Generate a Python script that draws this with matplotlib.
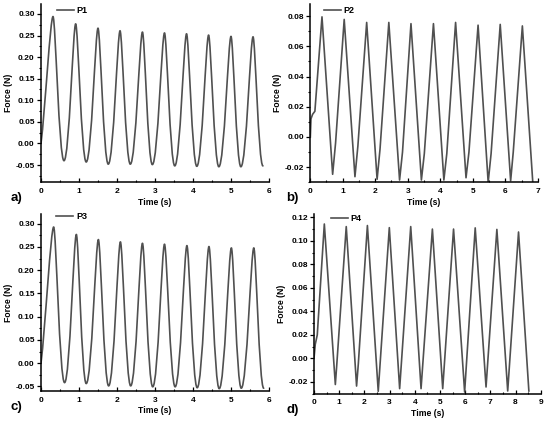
import matplotlib
matplotlib.use('Agg')
import matplotlib.pyplot as plt
from matplotlib.path import Path
from matplotlib.patches import PathPatch
from matplotlib.lines import Line2D
from matplotlib.ticker import MultipleLocator, FormatStrFormatter

plt.rcParams['font.family'] = ['Liberation Sans', 'DejaVu Sans']
plt.rcParams['font.weight'] = 'bold'
plt.rcParams['axes.labelweight'] = 'bold'

LINE = '#505050'

# ---------------- data: P1 (smooth) ----------------
p1_start = (0.0, 0.0)
p1_peak_t = [0.316, 0.912, 1.50, 2.08, 2.67, 3.25, 3.83, 4.41, 5.00, 5.58]
p1_peak_f = [0.294, 0.277, 0.267, 0.261, 0.258, 0.256, 0.254, 0.251, 0.248, 0.247]
p1_trough_t = [0.605, 1.19, 1.77, 2.35, 2.93, 3.52, 4.10, 4.68, 5.26, 5.84]
p1_trough_f = [-0.040, -0.043, -0.048, -0.048, -0.049, -0.052, -0.053, -0.054, -0.054, -0.052]

# ---------------- data: P3 (smooth) ----------------
p3_start = (0.0, 0.0)
p3_peak_t = [0.333, 0.93, 1.51, 2.09, 2.67, 3.25, 3.84, 4.42, 5.01, 5.60]
p3_peak_f = [0.293, 0.277, 0.266, 0.261, 0.258, 0.256, 0.253, 0.251, 0.248, 0.248]
p3_trough_t = [0.62, 1.19, 1.78, 2.36, 2.94, 3.53, 4.11, 4.69, 5.27, 5.86]
p3_trough_f = [-0.042, -0.044, -0.049, -0.049, -0.051, -0.051, -0.053, -0.055, -0.054, -0.054]

# ---------------- data: P2 (polyline) ----------------
p2_start_t = [0.01, 0.03, 0.08, 0.15]
p2_start_f = [0.000, 0.012, 0.015, 0.017]
p2_peak_t = [0.368, 1.05, 1.74, 2.42, 3.10, 3.79, 4.47, 5.16, 5.84, 6.52]
p2_peak_f = [0.0795, 0.0778, 0.0758, 0.0758, 0.0750, 0.0750, 0.0758, 0.0740, 0.0745, 0.0735]
p2_trough_t = [0.695, 1.38, 2.06, 2.75, 3.42, 4.11, 4.79, 5.47, 6.16, 6.84]
p2_trough_f = [-0.0247, -0.0263, -0.0280, -0.0285, -0.0285, -0.0285, -0.0270, -0.0300, -0.0290, -0.0300]
p2_knee_dt = [0.09, 0.09, 0.09, 0.09, 0.09, 0.09, 0.09, 0.09, 0.08]
p2_knee_f = [-0.004, -0.006, -0.008, -0.010, -0.011, -0.011, -0.010, -0.011, -0.010]

# ---------------- data: P4 (polyline) ----------------
p4_start_t = [0.0, 0.05, 0.13]
p4_start_f = [0.000, 0.012, 0.020]
p4_peak_t = [0.41, 1.28, 2.12, 2.99, 3.84, 4.70, 5.54, 6.40, 7.26, 8.12]
p4_peak_f = [0.1143, 0.1121, 0.1130, 0.1112, 0.1121, 0.1100, 0.1100, 0.1110, 0.1097, 0.1075]
p4_trough_t = [0.847, 1.69, 2.55, 3.40, 4.25, 5.11, 5.98, 6.83, 7.69, 8.53]
p4_trough_f = [-0.0222, -0.0235, -0.0280, -0.0257, -0.0257, -0.0257, -0.0286, -0.0243, -0.0277, -0.0277]
p4_knee_dt = [0.06, 0.07]
p4_knee_f = [-0.0045, -0.0045]


def smooth_patch(start, pk_t, pk_f, tr_t, tr_f):
    seq = []
    for i in range(len(pk_t)):
        seq.append((pk_t[i], pk_f[i], 'p'))
        seq.append((tr_t[i], tr_f[i], 't'))
    verts = [start]
    codes = [Path.MOVETO]
    prev = (start[0], start[1], 's')
    for cur in seq:
        dt = cur[0] - prev[0]
        if prev[2] == 's':
            c1 = (prev[0] + 0.33 * dt, prev[1] + 0.25 * (cur[1] - prev[1]))
        else:
            a0 = 0.45 if prev[2] == 't' else 0.22
            c1 = (prev[0] + a0 * dt, prev[1])
        a1 = 0.45 if cur[2] == 't' else 0.22
        c2 = (cur[0] - a1 * dt, cur[1])
        verts += [c1, c2, (cur[0], cur[1])]
        codes += [Path.CURVE4] * 3
        prev = cur
    return PathPatch(Path(verts, codes), fill=False, edgecolor=LINE, lw=1.2,
                     joinstyle='round', capstyle='round')


def poly_points(st_t, st_f, pk_t, pk_f, tr_t, tr_f, kn_dt, kn_f):
    ts = list(st_t)
    fs = list(st_f)
    for i in range(len(pk_t)):
        ts.append(pk_t[i]); fs.append(pk_f[i])
        ts.append(tr_t[i]); fs.append(tr_f[i])
        if i < len(kn_dt):
            ts.append(tr_t[i] + kn_dt[i]); fs.append(kn_f[i])
    return ts, fs


fig = plt.figure(figsize=(5.5, 4.25), dpi=100)

W, H = 550.0, 425.0


def make_ax(left, right, top, bottom):
    return fig.add_axes([left / W, 1 - bottom / H, (right - left) / W, (bottom - top) / H])


ax_a = make_ax(41, 269, 4, 182.3)
ax_b = make_ax(310, 538, 4, 182.3)
ax_c = make_ax(41, 269, 214, 391)
ax_d = make_ax(314, 540.7, 214, 393.7)

ax_a.add_patch(smooth_patch(p1_start, p1_peak_t, p1_peak_f, p1_trough_t, p1_trough_f))
ax_c.add_patch(smooth_patch(p3_start, p3_peak_t, p3_peak_f, p3_trough_t, p3_trough_f))
tb, fb = poly_points(p2_start_t, p2_start_f, p2_peak_t, p2_peak_f, p2_trough_t, p2_trough_f, p2_knee_dt, p2_knee_f)
ax_b.plot(tb, fb, color=LINE, lw=1.2)
td, fd = poly_points(p4_start_t, p4_start_f, p4_peak_t, p4_peak_f, p4_trough_t, p4_trough_f, p4_knee_dt, p4_knee_f)
ax_d.plot(td, fd, color=LINE, lw=1.2)

specs = [
    (ax_a, 'P1', (0, 6), (-0.09, 0.323), 0.05, 0.025, 'a)', (0.07, 0.99), -0.135),
    (ax_b, 'P2', (0, 7), (-0.03, 0.088), 0.02, 0.01, 'b)', (0.061, 0.99), -0.105),
    (ax_c, 'P3', (0, 6), (-0.06, 0.321), 0.05, 0.025, 'c)', (0.066, 1.01), -0.135),
    (ax_d, 'P4', (0, 9), (-0.03, 0.1228), 0.02, 0.01, 'd)', (0.075, 1.0), -0.12),
]

for ax, name, xl, yl, ymaj, ymin, lab, legpos, labx in specs:
    ax.set_xlim(*xl)
    ax.set_ylim(*yl)
    ax.spines['top'].set_visible(False)
    ax.spines['right'].set_visible(False)
    for s in ('left', 'bottom'):
        ax.spines[s].set_linewidth(1.1)
    ax.yaxis.set_major_locator(MultipleLocator(ymaj))
    ax.yaxis.set_minor_locator(MultipleLocator(ymin))
    ax.xaxis.set_major_locator(MultipleLocator(1))
    ax.xaxis.set_minor_locator(MultipleLocator(0.5))
    ax.yaxis.set_major_formatter(FormatStrFormatter('%.2f'))
    ax.tick_params(axis='y', which='major', direction='out', length=3, width=0.9, labelsize=6, pad=1.5)
    ax.tick_params(axis='y', which='minor', direction='out', length=1.8, width=0.8)
    ax.tick_params(axis='x', which='major', direction='in', length=3, width=0.9, labelsize=6, pad=4)
    ax.tick_params(axis='x', which='minor', direction='in', length=1.8, width=0.8)
    for t in ax.get_xticklabels() + ax.get_yticklabels():
        t.set_fontweight('bold')
    ax.set_xlabel('Time (s)', fontsize=6.2, fontweight='bold', labelpad=2)
    ax.set_ylabel('Force (N)', fontsize=6.2, fontweight='bold', labelpad=2)
    h = Line2D([], [], color=LINE, lw=1.2, label=name)
    ax.legend(handles=[h], loc='upper left', bbox_to_anchor=legpos, frameon=False,
              fontsize=6.5, handlelength=1.9, handletextpad=0.3, borderpad=0, borderaxespad=0)
    ax.text(labx, -0.09, lab, transform=ax.transAxes, fontsize=9.5, fontweight='bold',
            ha='left', va='center')

fig.savefig('out.png', dpi=100)
